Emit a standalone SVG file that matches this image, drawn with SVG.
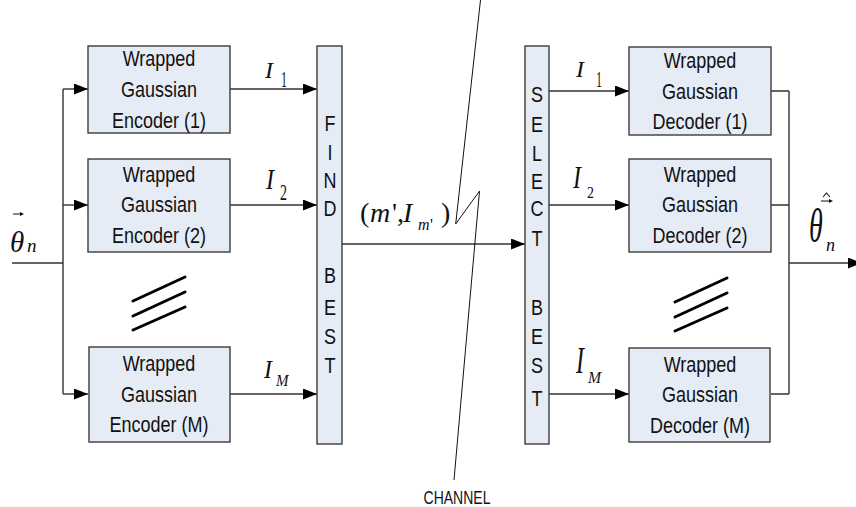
<svg xmlns="http://www.w3.org/2000/svg" width="856" height="507" viewBox="0 0 856 507">
  <defs>
    <marker id="ah" viewBox="0 0 14 11" refX="14" refY="5.5" markerWidth="14" markerHeight="11" markerUnits="userSpaceOnUse" orient="auto">
      <path d="M0,0 L14,5.5 L0,11 z" fill="#000"/>
    </marker>
    <style>
      .box { fill:#e6ecf6; stroke:#3c3c3c; stroke-width:1.4; }
      .lbl { font-family:"Liberation Sans", Arial, sans-serif; font-size:18px; fill:#111; text-anchor:middle; }
      .wire { stroke:#333; stroke-width:1.4; fill:none; }
      .arr { marker-end:url(#ah); }
      .thin { stroke:#111; stroke-width:1; fill:none; }
      .dots { stroke:#000; stroke-width:3; stroke-linecap:round; }
      .mi { font-family:"Liberation Serif", "Times New Roman", serif; font-style:italic; fill:#111; }
      .mr { font-family:"Liberation Serif", "Times New Roman", serif; fill:#111; }
    </style>
  </defs>
  <rect width="856" height="507" fill="#fff"/>

  <!-- connectors -->
  <g id="connectors">
    <path class="wire" d="M12,263 H63 M63,89 V394"/>
    <path class="wire arr" d="M63,89 H88"/>
    <path class="wire arr" d="M63,205 H88"/>
    <path class="wire arr" d="M63,394 H88"/>
    <path class="wire arr" d="M230,89 H317"/>
    <path class="wire arr" d="M230,205 H317"/>
    <path class="wire arr" d="M230,394 H317"/>
    <path class="wire arr" d="M342,244 H525"/>
    <path class="wire arr" d="M549,91 H629"/>
    <path class="wire arr" d="M549,205 H629"/>
    <path class="wire arr" d="M549,394 H629"/>
    <path class="wire" d="M771,91 H789 M771,205 H789 M771,394 H789 M789,91 V394"/>
    <path class="wire arr" d="M789,263 H862"/>
  </g>

  <!-- channel break -->
  <g id="channel">
    <path class="thin" d="M480.5,0 L455.7,224 L479.5,191 L454,480"/>
    <text class="lbl" style="font-size:14px" transform="translate(457 504) scale(1 1.26)">CHANNEL</text>
  </g>

  <!-- encoders -->
  <g id="encoder1">
    <rect class="box" x="88" y="46" width="142" height="87"/>
    <text class="lbl" transform="translate(159 66) scale(1 1.19)">Wrapped</text>
    <text class="lbl" transform="translate(159 97) scale(1 1.19)">Gaussian</text>
    <text class="lbl" transform="translate(159 128) scale(1 1.19)">Encoder (1)</text>
  </g>
  <g id="encoder2">
    <rect class="box" x="88" y="159" width="142" height="93"/>
    <text class="lbl" transform="translate(159 182) scale(1 1.19)">Wrapped</text>
    <text class="lbl" transform="translate(159 212) scale(1 1.19)">Gaussian</text>
    <text class="lbl" transform="translate(159 243) scale(1 1.19)">Encoder (2)</text>
  </g>
  <g id="encoderM">
    <rect class="box" x="89" y="347" width="141" height="95"/>
    <text class="lbl" transform="translate(159 371) scale(1 1.19)">Wrapped</text>
    <text class="lbl" transform="translate(159 402) scale(1 1.19)">Gaussian</text>
    <text class="lbl" transform="translate(159 432) scale(1 1.19)">Encoder (M)</text>
  </g>
  <g id="encoder-ellipsis">
    <path class="dots" d="M133,301 L185,277 M133,316 L185,292 M133,330 L185,307"/>
  </g>

  <!-- find best -->
  <g id="findbest">
    <rect class="box" x="317" y="46" width="25" height="398"/>
    <text class="lbl" transform="translate(330 131) scale(1 1.19)">F</text>
    <text class="lbl" transform="translate(330 160) scale(1 1.19)">I</text>
    <text class="lbl" transform="translate(330 188) scale(1 1.19)">N</text>
    <text class="lbl" transform="translate(330 216) scale(1 1.19)">D</text>
    <text class="lbl" transform="translate(330 283) scale(1 1.19)">B</text>
    <text class="lbl" transform="translate(330 315) scale(1 1.19)">E</text>
    <text class="lbl" transform="translate(330 344) scale(1 1.19)">S</text>
    <text class="lbl" transform="translate(330 373) scale(1 1.19)">T</text>
  </g>

  <!-- select best -->
  <g id="selectbest">
    <rect class="box" x="525" y="46" width="24" height="398"/>
    <text class="lbl" transform="translate(537 102) scale(1 1.19)">S</text>
    <text class="lbl" transform="translate(537 132) scale(1 1.19)">E</text>
    <text class="lbl" transform="translate(537 161) scale(1 1.19)">L</text>
    <text class="lbl" transform="translate(537 189) scale(1 1.19)">E</text>
    <text class="lbl" transform="translate(537 216) scale(1 1.19)">C</text>
    <text class="lbl" transform="translate(537 246) scale(1 1.19)">T</text>
    <text class="lbl" transform="translate(537 315) scale(1 1.19)">B</text>
    <text class="lbl" transform="translate(537 344) scale(1 1.19)">E</text>
    <text class="lbl" transform="translate(537 373) scale(1 1.19)">S</text>
    <text class="lbl" transform="translate(537 406) scale(1 1.19)">T</text>
  </g>

  <!-- decoders -->
  <g id="decoder1">
    <rect class="box" x="629" y="47" width="142" height="88"/>
    <text class="lbl" transform="translate(700 68) scale(1 1.19)">Wrapped</text>
    <text class="lbl" transform="translate(700 99) scale(1 1.19)">Gaussian</text>
    <text class="lbl" transform="translate(700 129) scale(1 1.19)">Decoder (1)</text>
  </g>
  <g id="decoder2">
    <rect class="box" x="629" y="159" width="142" height="93"/>
    <text class="lbl" transform="translate(700 182) scale(1 1.19)">Wrapped</text>
    <text class="lbl" transform="translate(700 212) scale(1 1.19)">Gaussian</text>
    <text class="lbl" transform="translate(700 243) scale(1 1.19)">Decoder (2)</text>
  </g>
  <g id="decoderM">
    <rect class="box" x="629" y="348" width="141" height="94"/>
    <text class="lbl" transform="translate(700 372) scale(1 1.19)">Wrapped</text>
    <text class="lbl" transform="translate(700 402) scale(1 1.19)">Gaussian</text>
    <text class="lbl" transform="translate(700 433) scale(1 1.19)">Decoder (M)</text>
  </g>
  <g id="decoder-ellipsis">
    <path class="dots" d="M675,302 L727,278 M675,317 L727,293 M675,331 L727,308"/>
  </g>

  <!-- signal labels -->
  <g id="labels">
    <!-- input angle vector -->
    <path d="M13,214 H21" stroke="#111" stroke-width="1"/>
    <path d="M20,212 L24,214 L20,216 z" fill="#111"/>
    <text class="mi" font-size="29" transform="translate(10 252) scale(1 1.05)">θ</text>
    <text class="mi" x="27" y="252" font-size="19">n</text>

    <!-- encoder outputs -->
    <text class="mi" font-size="24" transform="translate(265 78)">I</text>
    <text class="mr" font-size="14" transform="translate(281 87) scale(0.85 1.58)">1</text>
    <text class="mi" font-size="24" transform="translate(266 189) scale(1 1.2)">I</text>
    <text class="mr" font-size="14" transform="translate(280 200) scale(1 1.58)">2</text>
    <text class="mi" font-size="24" transform="translate(264 378) scale(1 1.08)">I</text>
    <text class="mi" font-size="15" transform="translate(276 386) scale(1 1.1)">M</text>

    <!-- transmitted pair -->
    <text class="mr" x="360" y="222" font-size="28">(</text>
    <text class="mi" x="370" y="222" font-size="28">m</text>
    <text class="mr" x="392" y="222" font-size="28">'</text>
    <text class="mr" x="397" y="222" font-size="28">,</text>
    <text class="mi" x="403" y="222" font-size="28">I</text>
    <text class="mi" x="418" y="230" font-size="16">m</text>
    <text class="mr" x="430" y="230" font-size="16">'</text>
    <text class="mr" x="441" y="222" font-size="28">)</text>

    <!-- decoder inputs -->
    <text class="mi" font-size="24" transform="translate(576 77)">I</text>
    <text class="mr" font-size="14" transform="translate(596 87) scale(0.85 1.58)">1</text>
    <text class="mi" font-size="24" transform="translate(573 188) scale(1 1.32)">I</text>
    <text class="mr" font-size="14" transform="translate(587 198) scale(1 1.16)">2</text>
    <text class="mi" font-size="24" transform="translate(576 373) scale(1 1.57)">I</text>
    <text class="mi" font-size="15" transform="translate(588 383) scale(1.05 1.1)">M</text>

    <!-- output estimate -->
    <path d="M823,197 L826.5,193 L830,197" stroke="#111" stroke-width="1.1" fill="none"/>
    <path d="M821,201 H830" stroke="#111" stroke-width="1"/>
    <path d="M829,199 L833,201 L829,203 z" fill="#111"/>
    <text class="mi" font-size="28" transform="translate(809 242) scale(1 1.72)">θ</text>
    <text class="mi" font-size="18" transform="translate(826 251) scale(1 1.1)">n</text>
  </g>
</svg>
